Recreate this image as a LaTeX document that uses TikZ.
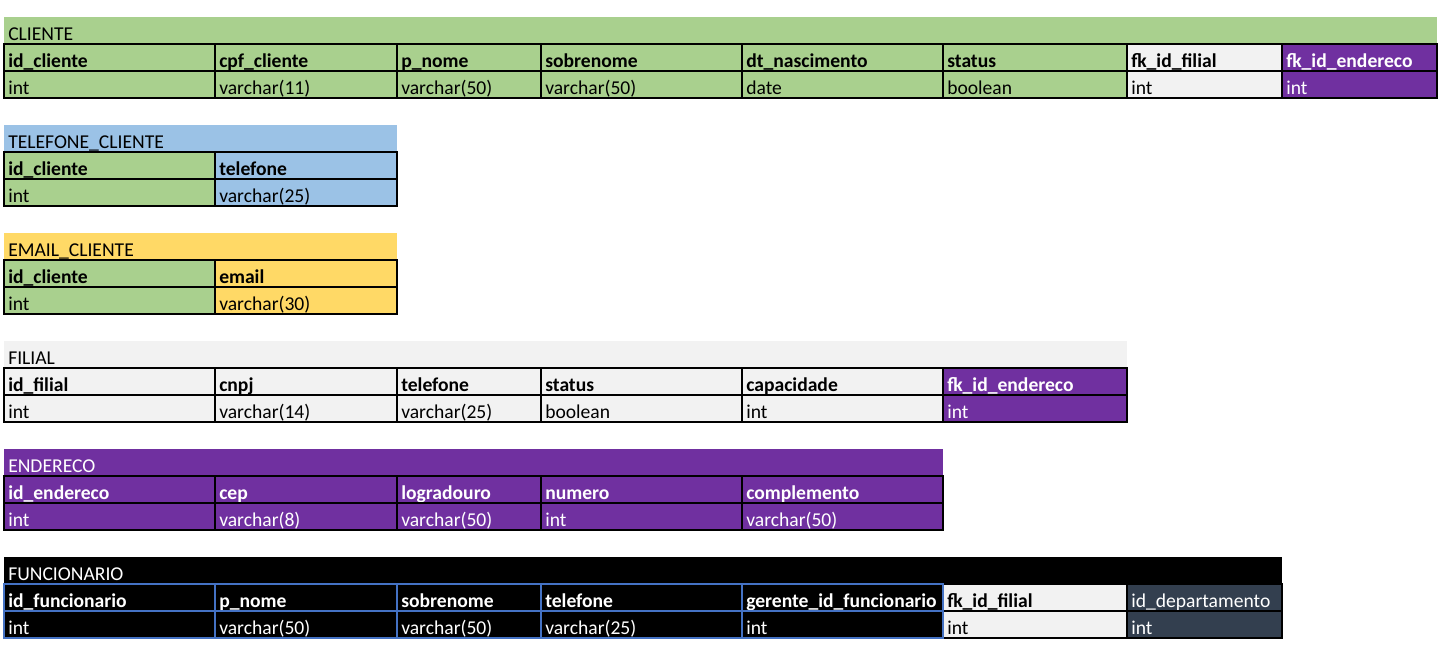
\documentclass[tikz,border=0pt]{standalone}
\usepackage{fontspec}
\setmainfont{Carlito}
\definecolor{cgreen}{HTML}{A9D08E}
\definecolor{cblue}{HTML}{9BC2E6}
\definecolor{cyellow}{HTML}{FFD966}
\definecolor{cgray}{HTML}{F2F2F2}
\definecolor{cpurple}{HTML}{7030A0}
\definecolor{cslate}{HTML}{333F4F}
\definecolor{cline}{HTML}{4472C4}
\tikzset{
  cellbase/.style={inner sep=0pt, anchor=base west, font=\fontsize{14.7}{17}\selectfont},
  hdr/.style={cellbase, font=\fontsize{14.7}{17}\selectfont\bfseries},
  gridline/.style={line width=0.8pt},
}
% title band: name, right x, top y, fill, text colour, text
\newcommand\tabletitle[6]{%
  \fill[#4] (4,#3) rectangle (#2,#3+27);
  \node[cellbase,text=#5] (#1) at (8,#3+23) {#6};}
% one column (header + type): name, x1, x2, table top, fill, text colour, header, type
\newcommand\tcol[8]{%
  \fill[#5] (#2,#4+27) rectangle (#3,#4+81);
  \node[hdr,text=#6] (#1-h) at (#2+4,#4+50) {#7};
  \node[cellbase,text=#6] (#1-v) at (#2+4,#4+77) {#8};}
% cell borders: colour, table top, left x, right x, inner column lines
\newcommand\tgrid[5]{%
  \draw[gridline,#1] (#3,#2+27) rectangle (#4,#2+81) (#3,#2+54) -- (#4,#2+54);
  \foreach \xx in {#5} \draw[gridline,#1] (\xx,#2+27) -- (\xx,#2+81);}
\begin{document}
\begin{tikzpicture}[x=0.75pt,y=-0.75pt]
\useasboundingbox[fill=white] (0,0) rectangle (1448,646);

% CLIENTE
\tabletitle{cliente}{1437}{17}{cgreen}{black}{CLIENTE}
\tcol{cli-id}{4}{215}{17}{cgreen}{black}{id\_cliente}{int}
\tcol{cli-cpf}{215}{397}{17}{cgreen}{black}{cpf\_cliente}{varchar(11)}
\tcol{cli-pn}{397}{541}{17}{cgreen}{black}{p\_nome}{varchar(50)}
\tcol{cli-sn}{541}{742}{17}{cgreen}{black}{sobrenome}{varchar(50)}
\tcol{cli-dt}{742}{943}{17}{cgreen}{black}{dt\_nascimento}{date}
\tcol{cli-st}{943}{1127}{17}{cgreen}{black}{status}{boolean}
\tcol{cli-fil}{1127}{1282}{17}{cgray}{black}{fk\_id\_filial}{int}
\tcol{cli-end}{1282}{1437}{17}{cpurple}{white}{fk\_id\_endereco}{int}
\tgrid{black}{17}{4}{1437}{215,397,541,742,943,1127,1282}

% TELEFONE_CLIENTE
\tabletitle{telefone}{397}{125}{cblue}{black}{TELEFONE\_CLIENTE}
\tcol{tel-id}{4}{215}{125}{cgreen}{black}{id\_cliente}{int}
\tcol{tel-tel}{215}{397}{125}{cblue}{black}{telefone}{varchar(25)}
\tgrid{black}{125}{4}{397}{215}

% EMAIL_CLIENTE
\tabletitle{email}{397}{233}{cyellow}{black}{EMAIL\_CLIENTE}
\tcol{em-id}{4}{215}{233}{cgreen}{black}{id\_cliente}{int}
\tcol{em-em}{215}{397}{233}{cyellow}{black}{email}{varchar(30)}
\tgrid{black}{233}{4}{397}{215}

% FILIAL
\tabletitle{filial}{1127}{341}{cgray}{black}{FILIAL}
\tcol{fil-id}{4}{215}{341}{cgray}{black}{id\_filial}{int}
\tcol{fil-cnpj}{215}{397}{341}{cgray}{black}{cnpj}{varchar(14)}
\tcol{fil-tel}{397}{541}{341}{cgray}{black}{telefone}{varchar(25)}
\tcol{fil-st}{541}{742}{341}{cgray}{black}{status}{boolean}
\tcol{fil-cap}{742}{943}{341}{cgray}{black}{capacidade}{int}
\tcol{fil-end}{943}{1127}{341}{cpurple}{white}{fk\_id\_endereco}{int}
\tgrid{black}{341}{4}{1127}{215,397,541,742,943}

% ENDERECO
\tabletitle{endereco}{943}{449}{cpurple}{white}{ENDERECO}
\tcol{end-id}{4}{215}{449}{cpurple}{white}{id\_endereco}{int}
\tcol{end-cep}{215}{397}{449}{cpurple}{white}{cep}{varchar(8)}
\tcol{end-log}{397}{541}{449}{cpurple}{white}{logradouro}{varchar(50)}
\tcol{end-num}{541}{742}{449}{cpurple}{white}{numero}{int}
\tcol{end-comp}{742}{943}{449}{cpurple}{white}{complemento}{varchar(50)}
\tgrid{black}{449}{4}{943}{215,397,541,742}

% FUNCIONARIO
\tabletitle{funcionario}{1282}{557}{black}{white}{FUNCIONARIO}
\tcol{fun-id}{4}{215}{557}{black}{white}{id\_funcionario}{int}
\tcol{fun-pn}{215}{397}{557}{black}{white}{p\_nome}{varchar(50)}
\tcol{fun-sn}{397}{541}{557}{black}{white}{sobrenome}{varchar(50)}
\tcol{fun-tel}{541}{742}{557}{black}{white}{telefone}{varchar(25)}
\tcol{fun-ger}{742}{943}{557}{black}{white}{gerente\_id\_funcionario}{int}
\tcol{fun-fil}{943}{1127}{557}{cgray}{black}{fk\_id\_filial}{int}
\tcol{fun-dep}{1127}{1282}{557}{cslate}{white}{\mdseries id\_departamento}{int}
\tgrid{black}{557}{943}{1282}{1127}
\tgrid{cline}{557}{4}{943}{215,397,541,742}
\end{tikzpicture}
\end{document}
